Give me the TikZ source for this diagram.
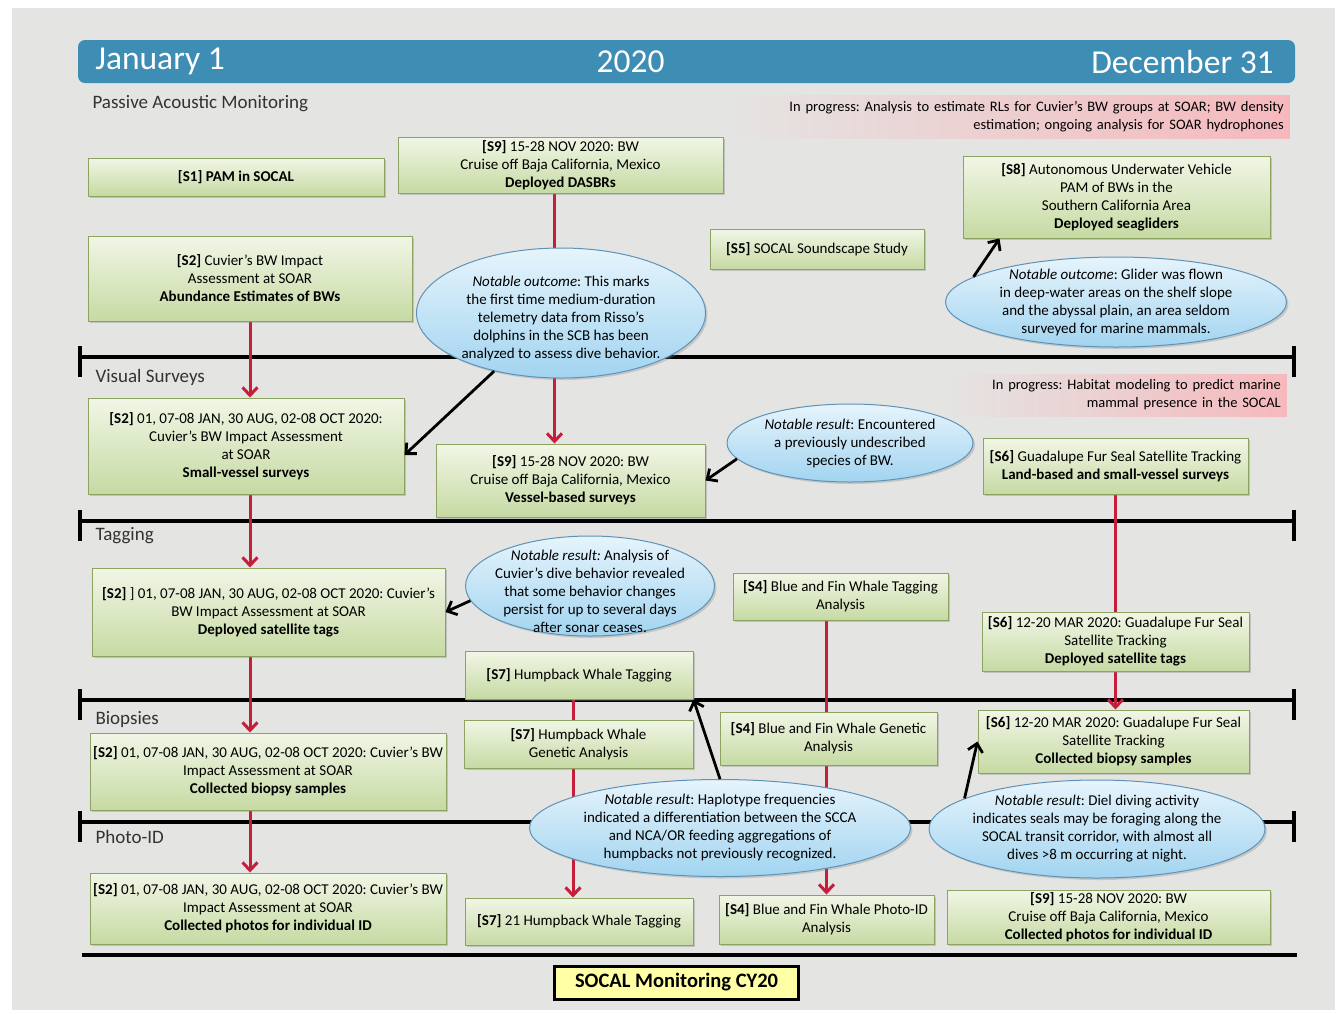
\documentclass[tikz,border=0pt]{standalone}
\usepackage{fontspec}
\setmainfont{Carlito}
\usetikzlibrary{arrows.meta,positioning,shapes.geometric,shadows}
\frenchspacing

\definecolor{panelgray}{HTML}{E4E4E2}
\definecolor{hdrblue}{HTML}{3E8DB5}
\definecolor{boxtop}{HTML}{F1F6E6}
\definecolor{boxbot}{HTML}{C6DAA3}
\definecolor{boxline}{HTML}{8CA362}
\definecolor{bubtop}{HTML}{E6F4FC}
\definecolor{bubbot}{HTML}{A2D4F0}
\definecolor{bubline}{HTML}{5E93B8}
\definecolor{linkred}{HTML}{C41E3A}
\definecolor{pinkc}{HTML}{F6B8BD}
\definecolor{titleyel}{HTML}{FFFFA6}

\newcommand{\lowstrut}{\rule{0pt}{21pt}}

\pgfdeclarelayer{bg}
\pgfdeclarelayer{conn}
\pgfsetlayers{bg,conn,main}

\begin{document}
\begin{tikzpicture}[x=1pt,y=-1pt,
    sbox/.style={draw=boxline, line width=1pt, top color=boxtop, bottom color=boxbot,
      align=center, inner sep=1pt, font=\fontsize{15}{18}\selectfont,
      drop shadow={opacity=0.35, shadow xshift=2pt, shadow yshift=-2pt}},
    bubble/.style={ellipse, draw=bubline, line width=1pt, top color=bubtop, bottom color=bubbot,
      align=center, inner xsep=-25pt, inner ysep=-20pt, font=\fontsize{15}{18}\selectfont,
      drop shadow={opacity=0.3, shadow xshift=2pt, shadow yshift=-2pt}},
    inprog/.style={left color=panelgray, right color=pinkc, align=right, inner xsep=6pt,
      font=\fontsize{14.5}{18}\selectfont},
    lanelabel/.style={anchor=west, font=\fontsize{19}{20}\selectfont, text=black!80},
    hdrtxt/.style={text=white, font=\fontsize{33.5}{35}\selectfont},
    titlebox/.style={draw=black, line width=3pt, fill=titleyel, minimum width=244pt,
      minimum height=33pt, font=\fontsize{20.5}{22}\selectfont\bfseries},
    redlink/.style={draw=linkred, line width=3pt},
    redarrow/.style={redlink, -{Straight Barb[length=8pt,width=15pt]}},
    blackarrow/.style={line width=2.8pt, -{Straight Barb[length=8pt,width=15pt]}},
    laneline/.style={line width=4pt}
  ]
  \useasboundingbox (0,0) rectangle (1344,1013);
  \begin{pgfonlayer}{bg}
    \fill[white] (0,0) rectangle (1344,1013);
    \fill[panelgray] (12,8) rectangle (1335,1010);
    % Lanes
    \foreach \y in {357,521,700,822} {
      \draw[laneline] (80,\y) -- (1294,\y);
      \draw[laneline] (80,{\y-11}) -- (80,{\y+20});
      \draw[laneline] (1294,{\y-11}) -- (1294,{\y+20});
    }
    \draw[laneline] (82,955) -- (1297,955);
  \end{pgfonlayer}

  % Header
  \node[fill=hdrblue, rounded corners=7pt, minimum width=1217pt, minimum height=43pt] (hdr) at (686.5,61.5) {};
  \node[hdrtxt, right=14pt of hdr.west] (jan) {January 1};
  \node[hdrtxt] (year) at ([xshift=-56pt]hdr.center) {2020};
  \node[hdrtxt, left=18pt of hdr.east] (dec) {December 31};

  % Lane labels
  \node[lanelabel] (pam) at (89,104) {Passive Acoustic Monitoring};
  \node[lanelabel] (vis) at (92,377) {Visual Surveys};
  \node[lanelabel] (tag) at (92,536) {Tagging};
  \node[lanelabel] (bio) at (92,719) {Biopsies};
  \node[lanelabel] (pid) at (92,837) {Photo-ID};

  % In progress notes
  \node[inprog, text width=548pt, minimum height=43pt, anchor=east] (prog1) at (1290,116.5)
    {In progress: Analysis to estimate RLs for Cuvier's BW groups at SOAR; BW density\\
     estimation; ongoing analysis for SOAR hydrophones};
  \node[inprog, text width=325pt, minimum height=42pt, anchor=east] (prog2) at (1287,395)
    {In progress: Habitat modeling to predict marine\\ mammal presence in the SOCAL};

  % Passive acoustic monitoring
  \node[sbox, minimum width=296pt, minimum height=38pt] (S1) at (236,177) {\textbf{[S1] PAM in SOCAL}};
  \node[sbox, minimum width=325pt, minimum height=56pt] (S9a) at (560.5,165)
    {\textbf{[S9]} 15-28 NOV 2020: BW\\ Cruise off Baja California, Mexico\\ \textbf{Deployed DASBRs}};
  \node[sbox, minimum width=324pt, minimum height=85pt] (S2a) at (250,278.5)
    {\textbf{[S2]} Cuvier's BW Impact\\ Assessment at SOAR\\ \textbf{Abundance Estimates of BWs}};
  \node[sbox, minimum width=214pt, minimum height=40pt] (S5) at (817,249) {\textbf{[S5]} SOCAL Soundscape Study};
  \node[sbox, minimum width=307pt, minimum height=82pt] (S8) at (1116.5,197)
    {\textbf{[S8]} Autonomous Underwater Vehicle\\ PAM of BWs in the\\ Southern California Area\\ \textbf{Deployed seagliders}};
  \node[bubble, minimum width=289pt, minimum height=130pt] (E1) at (561,313)
    {\lowstrut\textit{Notable outcome}: This marks\\ the first time medium-duration\\ telemetry data from Risso's\\
     dolphins in the SCB has been\\ analyzed to assess dive behavior.};
  \node[bubble, minimum width=341pt, minimum height=90pt] (E2) at (1116,302)
    {\textit{Notable outcome}: Glider was flown\\ in deep-water areas on the shelf slope\\
     and the abyssal plain, an area seldom\\ surveyed for marine mammals.};

  % Visual surveys
  \node[sbox, minimum width=316pt, minimum height=96pt] (S2b) at (246,446)
    {\textbf{[S2]} 01, 07-08 JAN, 30 AUG, 02-08 OCT 2020:\\ Cuvier's BW Impact Assessment\\ at SOAR\\ \textbf{Small-vessel surveys}};
  \node[sbox, minimum width=269pt, minimum height=73pt] (S9b) at (570.5,480.5)
    {\textbf{[S9]} 15-28 NOV 2020: BW\\ Cruise off Baja California, Mexico\\ \textbf{Vessel-based surveys}};
  \node[bubble, minimum width=246pt, minimum height=78pt] (E3) at (850,443)
    {\textit{Notable result}: Encountered\\ a previously undescribed\\ species of BW.};
  \node[sbox, minimum width=265pt, minimum height=56pt] (S6a) at (1115.5,466)
    {\textbf{[S6]} Guadalupe Fur Seal Satellite Tracking\\ \textbf{Land-based and small-vessel surveys}};

  % Tagging
  \node[sbox, minimum width=353pt, minimum height=88pt] (S2c) at (268.5,612)
    {\textbf{[S2]} ] 01, 07-08 JAN, 30 AUG, 02-08 OCT 2020: Cuvier's\\ BW Impact Assessment at SOAR\\ \textbf{Deployed satellite tags}};
  \node[bubble, minimum width=249pt, minimum height=100pt] (E4) at (590,586)
    {\lowstrut\textit{Notable result:} Analysis of\\ Cuvier's dive behavior revealed\\ that some behavior changes\\
     persist for up to several days\\ after sonar ceases.};
  \node[sbox, minimum width=215pt, minimum height=47pt] (S4a) at (840.5,596.5)
    {\textbf{[S4]} Blue and Fin Whale Tagging\\ Analysis};
  \node[sbox, minimum width=228pt, minimum height=48pt] (S7a) at (579,675) {\textbf{[S7]} Humpback Whale Tagging};
  \node[sbox, minimum width=267pt, minimum height=59pt] (S6b) at (1115.5,641.5)
    {\textbf{[S6]} 12-20 MAR 2020: Guadalupe Fur Seal\\ Satellite Tracking\\ \textbf{Deployed satellite tags}};

  % Biopsies
  \node[sbox, minimum width=356pt, minimum height=77pt] (S2d) at (268,771.5)
    {\textbf{[S2]} 01, 07-08 JAN, 30 AUG, 02-08 OCT 2020: Cuvier's BW\\ Impact Assessment at SOAR\\ \textbf{Collected biopsy samples}};
  \node[sbox, minimum width=229pt, minimum height=48pt] (S7b) at (578.5,744)
    {\textbf{[S7]} Humpback Whale\\ Genetic Analysis};
  \node[sbox, minimum width=217pt, minimum height=53pt] (S4b) at (828.5,738.5)
    {\textbf{[S4]} Blue and Fin Whale Genetic\\ Analysis};
  \node[sbox, minimum width=271pt, minimum height=63pt] (S6c) at (1113.5,741.5)
    {\textbf{[S6]} 12-20 MAR 2020: Guadalupe Fur Seal\\ Satellite Tracking\\ \textbf{Collected biopsy samples}};
  \node[bubble, minimum width=381pt, minimum height=97pt] (E5) at (720,828)
    {\textit{Notable result}: Haplotype frequencies\\ indicated a differentiation between the SCCA\\
     and NCA/OR feeding aggregations of\\ humpbacks not previously recognized.};
  \node[bubble, minimum width=336pt, minimum height=98pt] (E6) at (1097,829)
    {\textit{Notable result}: Diel diving activity\\ indicates seals may be foraging along the\\
     SOCAL transit corridor, with almost all\\ dives >8 m occurring at night.};

  % Photo-ID
  \node[sbox, minimum width=356pt, minimum height=71pt] (S2e) at (268,908.5)
    {\textbf{[S2]} 01, 07-08 JAN, 30 AUG, 02-08 OCT 2020: Cuvier's BW\\ Impact Assessment at SOAR\\ \textbf{Collected photos for individual ID}};
  \node[sbox, minimum width=228pt, minimum height=47pt] (S7c) at (579,921.5) {\textbf{[S7]} 21 Humpback Whale Tagging};
  \node[sbox, minimum width=215pt, minimum height=49pt] (S4c) at (826.5,919.5)
    {\textbf{[S4]} Blue and Fin Whale Photo-ID\\ Analysis};
  \node[sbox, minimum width=323pt, minimum height=54pt] (S9c) at (1108.5,917)
    {\textbf{[S9]} 15-28 NOV 2020: BW\\ Cruise off Baja California, Mexico\\ \textbf{Collected photos for individual ID}};

  \node[titlebox] (title) at (676.5,982.5) {SOCAL Monitoring CY20};

  % Red links
  \begin{pgfonlayer}{conn}
    \draw[redarrow] ([xshift=-6pt]S9a.south) -- ([xshift=-6pt]S9a.south |- S9b.north);
    \draw[redarrow] (S2a.south) -- (S2a.south |- S2b.north);
    \draw[redarrow] (S2b.south -| S2a.south) -- (S2c.north -| S2a.south);
    \draw[redarrow] (S2c.south -| S2a.south) -- (S2d.north -| S2a.south);
    \draw[redarrow] (S2d.south -| S2a.south) -- (S2e.north -| S2a.south);
    \draw[redlink] (S6a.south) -- (S6b.north);
    \draw[redarrow] (S6b.south) -- (S6b.south |- S6c.north);
    \draw[redlink] (S4a.south -| S4c.north) -- (S4b.north -| S4c.north);
    \draw[redarrow] (S4b.south -| S4c.north) -- (S4c.north);
    \draw[redlink] ([xshift=-6pt]S7a.south) -- ([xshift=-6pt]S7a.south |- S7b.north);
    \draw[redarrow] ([xshift=-6pt]S7c.north |- S7b.south) -- ([xshift=-6pt]S7c.north);
  \end{pgfonlayer}

  % Outcome arrows
  \draw[blackarrow] (E1.221) -- ([yshift=-9pt]S2b.east);
  \draw[blackarrow] (E2.170) -- ([xshift=37pt]S8.south west);
  \draw[blackarrow] (E3.188) -- (S9b.east);
  \draw[blackarrow] (E4.187) -- (S2c.east);
  \draw[blackarrow] (E5.north) -- (S7a.south east);
  \draw[blackarrow] (E6.167) -- (S6c.west);
\end{tikzpicture}
\end{document}
